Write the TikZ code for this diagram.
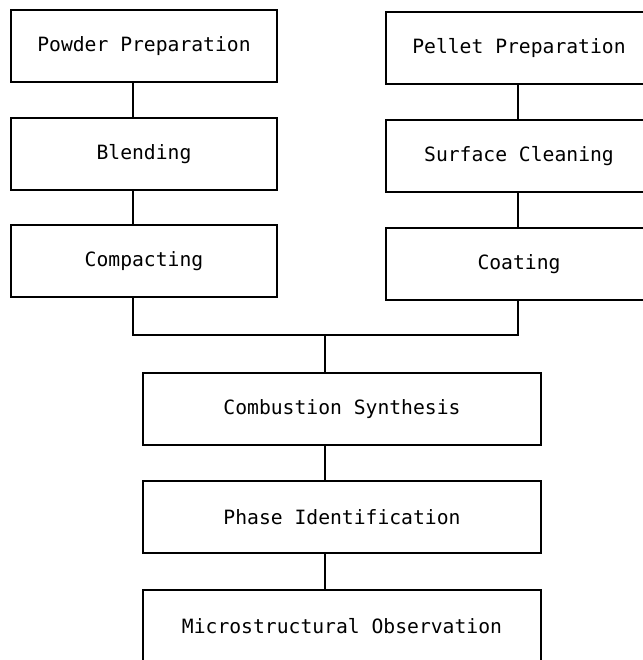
\documentclass[tikz,border=0pt]{standalone}
\usepackage{fontspec}
\setmonofont{DejaVu Sans Mono}
\usepackage{tikz}

\tikzset{box/.style={draw, line width=0.8pt, minimum height=1.8cm, inner sep=0pt,
  font=\ttfamily\fontsize{14}{16}\selectfont}}

\begin{document}
\begin{tikzpicture}[x=0.025cm,y=-0.025cm,line width=0.8pt]
\useasboundingbox (0,0) rectangle (643,660);
\clip (0,0) rectangle (643,660);
%%left column
\foreach \n/\y/\t in {powder/46/Powder Preparation,blend/154/Blending,compact/261/Compacting}
{\node[box,minimum width=6.65cm] (\n) at (144,\y) {\t};
}
%%right column
\foreach \n/\y/\t in {pellet/48/Pellet Preparation,clean/156/Surface Cleaning,coat/264/Coating}
{\node[box,minimum width=6.65cm] (\n) at (519,\y) {\t};
}
%%main column
\foreach \n/\y/\t in {comb/409/Combustion Synthesis,phase/517/Phase Identification,micro/626/Microstructural Observation}
{\node[box,minimum width=9.95cm] (\n) at (342,\y) {\t};
}

%%connectors
\coordinate (lx) at (133,0);
\coordinate (rx) at (518,0);
\coordinate (bus) at (325,335);
\foreach \a/\b in {powder/blend,blend/compact}
{\draw (\a.south -| lx) -- (\b.north -| lx);
}
\foreach \a/\b in {pellet/clean,clean/coat}
{\draw (\a.south -| rx) -- (\b.north -| rx);
}
\draw (compact.south -| lx) |- (bus -| rx) -- (coat.south -| rx);
\draw (bus) -- (comb.north -| bus);
\foreach \a/\b in {comb/phase,phase/micro}
{\draw (\a.south -| bus) -- (\b.north -| bus);
}
\end{tikzpicture}
\end{document}
